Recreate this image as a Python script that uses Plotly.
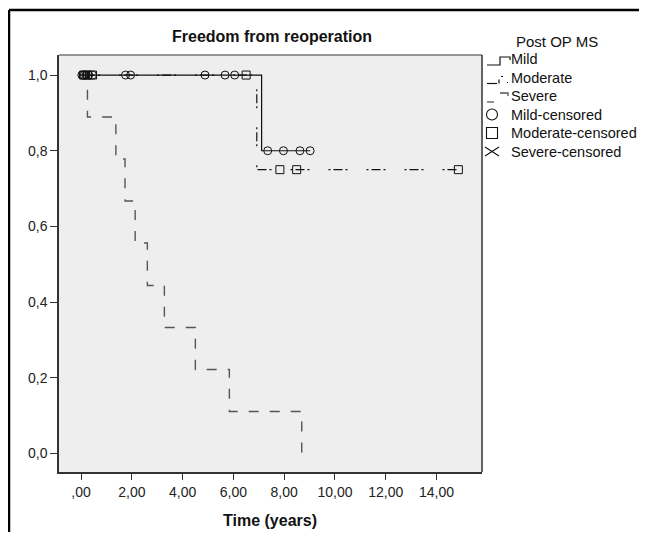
import plotly.graph_objects as go

# ---- data ----
mild_time = [0.0, 7.11, 9.02]
mild_surv = [1.0, 0.80, 0.80]
moderate_time = [0.0, 6.92, 14.86]
moderate_surv = [1.0, 0.75, 0.75]
severe_time = [0.0, 0.25, 1.37, 1.73, 2.13, 2.61, 3.28, 4.50, 5.84, 8.69]
severe_surv = [1.0, 0.889, 0.778, 0.667, 0.556, 0.444, 0.333, 0.222, 0.111, 0.0]

mild_cens_time = [0.03, 0.08, 0.13, 0.2, 0.3, 0.45, 1.75, 1.95, 4.88, 5.67, 6.05, 7.35, 7.97, 8.62, 9.02]
mild_cens_surv = [1.0] * 11 + [0.8] * 4
moderate_cens_time = [0.1, 0.25, 0.45, 6.5, 7.83, 8.49, 14.86]
moderate_cens_surv = [1.0, 1.0, 1.0, 1.0, 0.75, 0.75, 0.75]

x_ticks = [0, 2, 4, 6, 8, 10, 12, 14]
x_tick_labels = [",00", "2,00", "4,00", "6,00", "8,00", "10,00", "12,00", "14,00"]
y_ticks = [0.0, 0.2, 0.4, 0.6, 0.8, 1.0]
y_tick_labels = ["0,0", "0,2", "0,4", "0,6", "0,8", "1,0"]

legend_title = "Post OP MS"
legend_labels = ["Mild", "Moderate", "Severe", "Mild-censored", "Moderate-censored", "Severe-censored"]

FONT = "Arial, Liberation Sans, sans-serif"
INK = "#111111"
MOD_DASH = "2px,3px,9px,3px,2px,19px"
SEV_DASH = "10px,11px"
SEV_COLOR = "#555555"

# page body has an 8px margin; keep the figure inside the window (no scrollbars)
OFF = 8
FIG_W, FIG_H = 647 - 2 * OFF, 540 - 2 * OFF

# plot area in reference-page pixels
L, R, T, B = 59, 482, 55, 472
W, H = R - L, B - T


def px(x):
    return (x - L) / W


def py(y):
    return (B - y) / H


fig = go.Figure()
fig.add_trace(go.Scatter(x=mild_time, y=mild_surv, mode="lines", line_shape="hv",
                         line=dict(color=INK, width=1.2), name="Mild"))
fig.add_trace(go.Scatter(x=moderate_time, y=moderate_surv, mode="lines", line_shape="hv",
                         line=dict(color=INK, width=1.2, dash=MOD_DASH), name="Moderate"))
fig.add_trace(go.Scatter(x=severe_time, y=severe_surv, mode="lines", line_shape="hv",
                         line=dict(color=SEV_COLOR, width=1.4, dash=SEV_DASH), name="Severe"))
fig.add_trace(go.Scatter(x=mild_cens_time, y=mild_cens_surv, mode="markers",
                         marker=dict(symbol="circle-open", size=8, color=INK, line=dict(width=1)),
                         name="Mild-censored"))
fig.add_trace(go.Scatter(x=moderate_cens_time, y=moderate_cens_surv, mode="markers",
                         marker=dict(symbol="square-open", size=8, color=INK, line=dict(width=1)),
                         name="Moderate-censored"))

fig.update_layout(
    width=FIG_W, height=FIG_H,
    margin=dict(l=L - OFF, r=FIG_W - (R - OFF), t=T - OFF, b=FIG_H - (B - OFF)),
    paper_bgcolor="white", plot_bgcolor="#eeeeee",
    font=dict(family=FONT, size=14, color="#222222"),
    title=dict(text="<b>Freedom from reoperation</b>", x=(272 - OFF) / FIG_W, xanchor="center",
               y=1 - (36 - OFF) / FIG_H, yanchor="middle", yref="container",
               font=dict(family=FONT, size=16, color=INK)),
    xaxis=dict(range=[-0.87, 15.79], tickvals=x_ticks, ticktext=x_tick_labels,
               showgrid=False, zeroline=False, ticks="outside", ticklen=6, tickcolor="#333333",
               showline=True, linecolor="#333333", linewidth=1.5,
               tickfont=dict(family=FONT, size=14, color="#222222")),
    yaxis=dict(range=[-0.049, 1.053], tickvals=y_ticks, ticktext=y_tick_labels,
               showgrid=False, zeroline=False, ticks="outside", ticklen=7, tickcolor="#333333",
               showline=True, linecolor="#333333", linewidth=1.5,
               tickfont=dict(family=FONT, size=14, color="#222222")),
    showlegend=False,
)

# x-axis title
fig.add_annotation(text="<b>Time (years)</b>", xref="paper", yref="paper", x=px(270), y=py(520),
                   xanchor="center", yanchor="middle", showarrow=False,
                   font=dict(family=FONT, size=16, color=INK))

# plot border top/right
fig.add_shape(type="line", xref="paper", yref="paper", x0=0, x1=1, y0=1, y1=1,
              line=dict(color="#777777", width=1.5))
fig.add_shape(type="line", xref="paper", yref="paper", x0=1, x1=1, y0=0, y1=1,
              line=dict(color="#333333", width=1.5))
# outer black frame (left and top visible)
fig.add_shape(type="line", xref="paper", yref="paper", x0=px(9), x1=px(9),
              y0=py(10), y1=py(545), line=dict(color="black", width=2.5))
fig.add_shape(type="line", xref="paper", yref="paper", x0=px(9), x1=px(650),
              y0=py(10), y1=py(10), line=dict(color="black", width=2.5))

# ---- manual legend ----
LEG_FONT = 14.5
fig.add_annotation(text=legend_title, xref="paper", yref="paper", x=px(557), y=py(41.5),
                   xanchor="center", yanchor="middle", showarrow=False,
                   font=dict(family=FONT, size=15, color=INK))
legend_y = [59, 77.5, 96, 114.5, 133, 152]
for lbl, yy in zip(legend_labels, legend_y):
    fig.add_annotation(text=lbl, xref="paper", yref="paper", x=px(509), y=py(yy),
                       xanchor="left", yanchor="middle", showarrow=False,
                       font=dict(family=FONT, size=LEG_FONT, color=INK))


def path(points):
    return "M " + " L ".join(f"{px(a):.5f},{py(b):.5f}" for a, b in points)


# Mild icon (solid step)
y0 = legend_y[0]
fig.add_shape(type="path", xref="paper", yref="paper",
              path=path([(487, y0 + 6), (500, y0 + 6), (500, y0 - 2), (510, y0 - 2), (510, y0 + 1)]),
              line=dict(color=INK, width=1.2))
# Moderate icon (dash-dot step)
y1 = legend_y[1]
fig.add_shape(type="line", xref="paper", yref="paper", x0=px(487), x1=px(497), y0=py(y1 + 6), y1=py(y1 + 6),
              line=dict(color=INK, width=1.2))
fig.add_shape(type="line", xref="paper", yref="paper", x0=px(499), x1=px(499), y0=py(y1 + 6), y1=py(y1 + 2),
              line=dict(color=INK, width=1.2))
fig.add_shape(type="line", xref="paper", yref="paper", x0=px(501), x1=px(503), y0=py(y1 - 1), y1=py(y1 - 1),
              line=dict(color=INK, width=1.2))
fig.add_shape(type="line", xref="paper", yref="paper", x0=px(507), x1=px(508), y0=py(y1 + 5), y1=py(y1 + 5),
              line=dict(color=INK, width=1.2))
# Severe icon (dashed step)
y2 = legend_y[2]
fig.add_shape(type="line", xref="paper", yref="paper", x0=px(487), x1=px(494), y0=py(y2 + 6), y1=py(y2 + 6),
              line=dict(color=SEV_COLOR, width=1.3))
fig.add_shape(type="path", xref="paper", yref="paper",
              path=path([(500, y2 - 3), (508, y2 - 3), (508, y2)]),
              line=dict(color=SEV_COLOR, width=1.3))
# Mild-censored icon (circle)
y3 = legend_y[3]
fig.add_shape(type="circle", xref="paper", yref="paper", x0=px(486.5), x1=px(497.5),
              y0=py(y3 - 5.5), y1=py(y3 + 5.5), line=dict(color=INK, width=1.1))
# Moderate-censored icon (square)
y4 = legend_y[4]
fig.add_shape(type="rect", xref="paper", yref="paper", x0=px(486.5), x1=px(497.5),
              y0=py(y4 - 5.5), y1=py(y4 + 5.5), line=dict(color=INK, width=1.1))
# Severe-censored icon (x)
y5 = legend_y[5]
fig.add_shape(type="path", xref="paper", yref="paper",
              path=path([(485, y5 - 5), (499, y5 + 4)]), line=dict(color=INK, width=1.1))
fig.add_shape(type="path", xref="paper", yref="paper",
              path=path([(485, y5 + 4), (499, y5 - 5)]), line=dict(color=INK, width=1.1))

fig.write_html("out.html")
